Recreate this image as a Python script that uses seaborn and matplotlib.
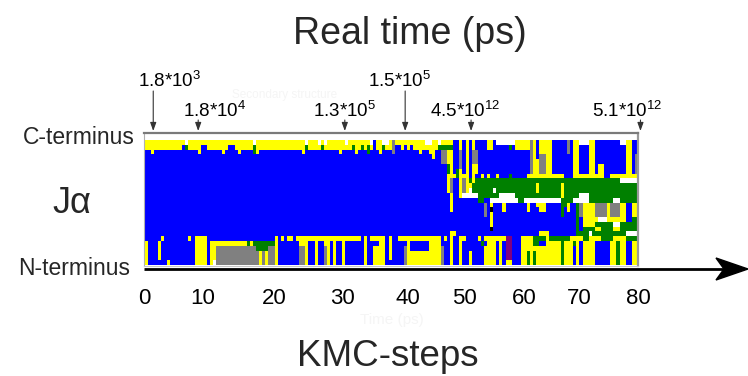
import matplotlib
matplotlib.use("Agg")
import matplotlib.pyplot as plt
import pandas as pd
import seaborn as sns
from matplotlib.colors import ListedColormap
from matplotlib.lines import Line2D
from matplotlib.patches import Polygon

# ---------------- data ----------------
# secondary-structure codes per residue (rows, C-terminus on top) and half KMC-step (columns)
ss_codes = ["W", "Y", "B", "G", "A", "P", "K"]
ss_colors = ["#FFFFFF", "#FFFF00", "#0000FF", "#008000", "#808080", "#800080", "#000000"]

B20 = "BBBBBBBBBBBBBBBBBBBB"
ss_rows = [
    ["YYYYYYYYYYYYYWYYYYYY", "YYYYYYYYYYYYYYYWYYYY", "YYYYYYYYYYYYWYYYWYWY", "YYYYYWYYYYYYYWBYYWWY",
     "AYYYYYYYYYYWWYYWYYYY", "BBYBYBYBBBBYYBWWWWWW", "YYYYYAYBYYYYBBBBBABY", "YWWWYYBBBBBBBBWWYYBB"],
    ["YYYYYYYYYYYYBGYYYYBB", "YYYYYYYBBYYYYYYGYYYY", "YYYYYYYYYYYYGYYYYGYY", "YYYYYYYGYYGYGYBYYGYY",
     "ABBYBYBYYYYYYYYGGGGG", "BBYBYBYBBBBYYBBBBBGB", "YYYYYAYBYYYYBBBBBABY", "YBBBYYBBBBBBBBBBYYBB"],
    ["BBYBBBBBBBBBBBBBBYBB", "BBBBBYBBBBYBBBBGYBBB", "BBBBBBBBBBBYBBBBBBBB", "BBBYBBBBYBBBGBBBYBBB",
     "ABBBBBBBBYBBYYBBAAYY", "BBABYBAABBBBBBBBBBBB", "BBBBBAYBYYYYBBBBBABY", "YBBBYYBBBBBBBBBBYYBB"],
    [B20, B20, B20, B20,
     "BBBBBBBBBBBBBYBBAAYY", "BBABYBAABBBBBBBBBBBB", "BBBBBAYBAAYYBBBBBBBY", "YBBBYYBBBBBBBBBBYYBA"],
    [B20, B20, B20, B20,
     "BBBBBBBBBBBBBBBBAAYY", "BBABYBAABBBBBBBBBBBB", "BBBBBAYYAAYYBBBBBBBY", "YBBBYYBBBBBBBBBBYYBA"],
    [B20, B20, B20, B20,
     "BBBBBBBBBBBBBBBBBBGY", "BBABYBYYBBBBBBBBBBBB", "BBBBBAYYAAYYBBBBBBBY", "YBBBYYBYYBBBBBBBYYBA"],
    [B20, B20, B20, B20,
     "BBBBBBBBBBBBBBBBBBGY", "BGYBYBYYBBBBBBBBBBBB", "BBBBBAYYAAYYBBBBBBBY", "YBBBYYBYYBBBBBBBYYBA"],
    [B20, B20, B20, B20,
     "BBBBBBBBBBBBBBBBBBYY", "YGYYYBYBBYBYBBYBBBGB", "BBBBYYYYYYYYYYYYBBBY", "YYYYYYYYYBBYYYYYYYYY"],
    [B20, B20, B20, B20,
     "BBBBBBBBBBBBBBBBBBYA", "BBYAYGYGGGGGGGGGGGGG", "GGGGGGGGGGGGGGGGGGGG", "GGGGGGGGGGGGGGWWWWWW"],
    [B20, B20, B20, B20,
     "BBBBBBBBBBBBBBBBBBYA", "BBYAYYGGGGGGGGGGGGGG", "GGGGGGGYGGGGGGGYGGGG", "GGGGGGGGGGGGGGGGGGGG"],
    [B20, B20, B20, B20,
     "BBBBBBBBBBBBBBBBBBYA", "BBYAYWGGGGGGGWGGGGGG", "GGGGGGGYGGGGGGGYGGGG", "GGGGGGGGGGGGGGGGGGGG"],
    [B20, B20, B20, B20,
     "BBBBBBBBBBBBBBBBBBBY", "BBYWWWWWGGGGGGGWWWWW", "GGGGGGGGGGGGGGGYGGGG", "GWWWGGGGGGGGGGGGGGGG"],
    [B20, B20, B20, B20,
     "BBBBBBBBBBBBBBBBBBBY", "BBBBBBBBGGBBWWWWWWWW", "WGGWWWWWWWWWWWWGGGGW", "WWWWGGGGGGGGWWGGGGGG"],
    [B20, B20, B20, B20,
     "BBBBBBBBBBBBBBBBBBBY", "BBBBBBBBBBABYBBBYBBB", "BBBBYBBYYYBBBBBGGYBB", "GAYYYYAAAAYAAAYYBBYY"],
    [B20, B20, B20, B20,
     "BBBBBBBBBBBBBBBBBBBY", "BBBBBBBBBBABKBBBYBBB", "BBBBYBBBYYBBBBBGBYBB", "GAYYYYAAAAYAAAYYBBYY"],
    [B20, B20, B20, B20,
     B20, "BBBBBBBBBBABYBBBBBBB", "BBBBBBBBBBBBBBBGBBBB", "GAYYYYAAAAYAAAYYBBYY"],
    [B20, B20, B20, B20,
     B20, "BBBBBBBBBBBBYBBBBBBB", B20, "GBYYYYYWWWYYYYYYBBGG"],
    [B20, B20, B20, B20,
     B20, "BBBBBBBBBBBBYBBBBBBB", B20, "GBYYYYGGGGGGWWGGGGGG"],
    [B20, B20, B20, B20,
     B20, "BBBBBBBBBBBBKBBBBBBB", B20, "GBGGGGYYGGGGYYGGGGGG"],
    [B20, B20, B20, B20,
     "BBBBBBBBBBBBBBBBBBBY", "YBBBBBBBBBBBBBBBBBBB", "BBBBBBBBYYYBBBBBBBBB", "GGGGWGGGGGGGGGGGWWWW"],
    ["BBBBBYBBBBBBBBYBYYYY", B20, "BBYBYBYYBYYYYYYYYYYY", "YYYYYYYYYYBYBYYYYYBY",
     "BBYYYYYYYYYYYYYYBYBY", "BBYYBBBBYBYYYYYYYPPB", "BBYYYYGGGGYGGGGGGGYY", "YYGGYYYYGGGGYYYYGGGG"],
    ["YBBBYBBBBBBBBBBBYYYY", "BYYYYYYYYYYYYGYGGGGG", "GGYBBBBBBBYYYBBYBBYY", "BYBBYBBBBBBYBBBBYYBY",
     "BBBBBYBBBBBBYYYYBBBY", "BBYBBBBBBGBYYYBYBPPB", "BBYYYYGGBBYYYYYGYYYG", "YBYYYYBBBBBYYGYYBBYY"],
    ["YBBBYBBBBBBBBBBBYYYY", "BYYAAAAAAAAAAAAAGGGG", "AAYBBBBBBBAAYBBYBBAY", "BYBBYBBBBBBYBBYYYYBY",
     "BBBBAYBBBBBBYYYYABBY", "BBYBBBBBBBYYYYBYBPPB", "BBYYYYYYYYYYYYYGYYYB", "YBYYYYBBBBBYYGYYBBYY"],
    ["YBBBYBBBBBBBBBBBYYYY", "BYYAAAAAAAAAAAAAAYAY", "AAYBBBBBBBAAYBBYBBAY", "BYBBYBBBBBBYBBYYYYBY",
     "BBBBAYYYYYYYYYYYABBY", "BBYBBYBBBBYYYYBYBPPB", "BBYYGYGYYYYYYYYGYYYB", "YBYYYYBBBBBYYGYYBBYY"],
    ["YBBBYBBBBBBBBBBBYYYY", "BYYAAAAAAAAAAAAAAYAY", "AAYBBBBBBBAAYBBYBBAY", "BYBBYBBBBBBYBBYYYYBY",
     "BBBBAYYYYYYYYYYYABBY", "BBYBBYBBBBYYYYBYBPPB", "BBYYGYGYYYYYYYYGYYYB", "YBYYYYBBBBBYYGYYBBYY"],
    ["YBBBBBBYBBBBBBBBYYYY", "BYWAAAAAAAAAAAAAAYAY", "AAYBBBBBBBAAYBBYBBAY", "BYBBYBBBBBBYBBYYYYBB",
     "BBBBAYYYYYYYYYYYABBY", "BBYBBYBBBBYYYYBYBYYB", "BBYYGYGYYYYYYYYGYYYB", "YBYYYYBBBBBYYGYYBBYY"],
]

step_labels = [0, 10, 20, 30, 40, 50, 60, 70, 80]
step_label_pos = [-0.2, 9.4, 21.0, 32.0, 42.6, 51.8, 61.5, 70.4, 80.0]   # where labels sit (KMC-step units)

time_labels = ["1.8*10$^{3}$", "1.8*10$^{4}$", "1.3*10$^{5}$", "1.5*10$^{5}$", "4.5*10$^{12}$", "5.1*10$^{12}$"]
time_mark_steps = [1.3, 8.6, 32.4, 42.2, 52.9, 80.4]
time_label_steps = [3.9, 11.3, 32.4, 41.3, 52.0, 78.2]
time_label_high = [True, False, False, True, False, False]

# ---------------- build matrix ----------------
code_index = {c: i for i, c in enumerate(ss_codes)}
def expand(chunks):
    s = "".join((c + c[-1] * 20)[:20] for c in chunks)
    return [code_index[ch] for ch in s]

grid = pd.DataFrame([expand(r) for r in ss_rows])
nrows, ncols = grid.shape
cols_per_step = ncols / 80.0

# ---------------- figure ----------------
sns.set_style("white")
plt.rcParams["font.family"] = ["Liberation Sans", "DejaVu Sans"]
plt.rcParams["mathtext.fontset"] = "custom"
plt.rcParams["mathtext.rm"] = "Liberation Sans"
plt.rcParams["mathtext.it"] = "Liberation Sans:italic"
plt.rcParams["mathtext.bf"] = "Liberation Sans:bold"
plt.rcParams["mathtext.default"] = "regular"

W, H = 748, 376
def fx(x):
    return x / W
def fy(y):
    return 1 - y / H

fig = plt.figure(figsize=(W / 100, H / 100), dpi=100)
fig.patch.set_facecolor("white")
ax = fig.add_axes([fx(144), fy(266), (638 - 144) / W, (266 - 133) / H])

sns.heatmap(grid, cmap=ListedColormap(ss_colors), vmin=-0.5, vmax=len(ss_colors) - 0.5,
            cbar=False, xticklabels=False, yticklabels=False, linewidths=0, ax=ax)

ax.set_xlim(0, ncols)
ax.set_ylim(nrows + 0.2, -1.46)

for side, col, lw in [("top", "#7a7a7a", 1.6), ("left", "#b0b0b0", 0.8),
                      ("right", "#999999", 1.6), ("bottom", "#c8c8c8", 0.8)]:
    ax.spines[side].set_visible(True)
    ax.spines[side].set_color(col)
    ax.spines[side].set_linewidth(lw)

ax.set_xticks([p * cols_per_step for p in step_label_pos])
ax.set_xticklabels([str(v) for v in step_labels])
ax.tick_params(axis="x", length=0, pad=16, labelsize=16, labelbottom=True, colors="black")
ax.set_yticks([])

# time annotations with arrows
for lab, mstep, lstep, high in zip(time_labels, time_mark_steps, time_label_steps, time_label_high):
    xm = mstep * cols_per_step
    y_start = 91 if high else 120
    ax.annotate("", xy=(xm, H - 131), xytext=(xm, H - y_start),
                xycoords=("data", "figure pixels"), textcoords=("data", "figure pixels"),
                arrowprops=dict(arrowstyle="-|>,head_length=0.5,head_width=0.18",
                                color="#333333", lw=0.8, shrinkA=0, shrinkB=0),
                annotation_clip=False)
    ax.annotate(lab, xy=(lstep * cols_per_step, H - (87 if high else 117)),
                xycoords=("data", "figure pixels"), ha="center", va="baseline",
                fontsize=13.5, color="black", annotation_clip=False)

# faint ghost texts from the original figure
fig.text(fx(285), fy(95), "Secondary structure", ha="center", va="center", fontsize=8.5, color="#f5f5f5")
fig.text(fx(392), fy(320), "Time (ps)", ha="center", va="center", fontsize=11, color="#f5f5f5")

# titles and labels
fig.text(fx(410), fy(44), "Real time (ps)", ha="center", va="baseline", fontsize=27)
fig.text(fx(388), fy(366), "KMC-steps", ha="center", va="baseline", fontsize=26.5)
fig.text(fx(52), fy(213), "J\u03b1", ha="left", va="baseline", fontsize=26)
fig.text(fx(135), fy(144), "C-terminus", ha="right", va="baseline", fontsize=16.5)
fig.text(fx(130), fy(275), "N-terminus", ha="right", va="baseline", fontsize=16.5)

# axis arrow along the bottom
fig.add_artist(Line2D([fx(144), fx(726)], [fy(269), fy(269)], transform=fig.transFigure,
                      color="black", lw=2.0, solid_capstyle="butt"))
fig.add_artist(Polygon([[fx(748), fy(269)], [fx(716), fy(258)], [fx(724), fy(269)], [fx(716), fy(280)]],
                       closed=True, transform=fig.transFigure, facecolor="black", edgecolor="black"))

fig.savefig("out.png", dpi=100, facecolor="white")
